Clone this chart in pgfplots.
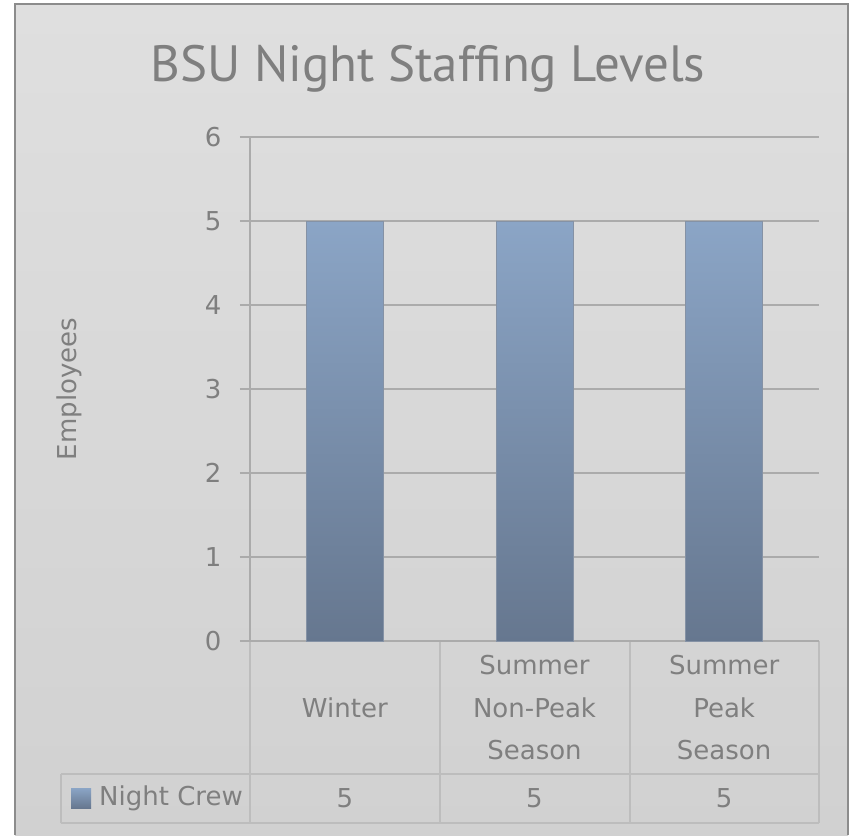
\documentclass[border=0pt]{standalone}
\usepackage{fontspec}
\usepackage{pgfplots}
\pgfplotsset{compat=1.18}
\newfontfamily\lab{DejaVu Sans}
\newfontfamily\ttl{PT Sans}
\definecolor{txt}{HTML}{7F7F7F}
\definecolor{gridc}{HTML}{ABABAB}
\definecolor{tabc}{HTML}{BDBDBD}
\definecolor{bgtop}{HTML}{DFDFDF}
\definecolor{bgbot}{HTML}{D1D1D1}
\definecolor{bartop}{HTML}{8BA5C6}
\definecolor{barbot}{HTML}{66778F}
\begin{document}
\begin{tikzpicture}
\begin{scope}[x=1pt,y=1pt]
\fill[white] (0,0) rectangle (853,835);
\shade[top color=bgtop,bottom color=bgbot] (15,0) rectangle (848,831);
\draw[line width=2pt, color=black!45] (15,0) -- (15,831) -- (848,831) -- (848,0);
\node[font=\ttl\fontsize{51}{60}\selectfont, text=txt] at (428,766) {BSU Night Staffing Levels};
% data table grid
\draw[tabc, line width=1.2pt] (61,61) -- (819,61);
\draw[tabc, line width=1.2pt] (61,12) -- (819,12);
\draw[tabc, line width=1.2pt] (61,12) -- (61,61);
\foreach \xx in {250,440,630,819} {\draw[tabc, line width=1.2pt] (\xx,12) -- (\xx,194);}
% legend key
\shade[top color=bartop, bottom color=barbot] (71,27) rectangle (91,47);
\node[font=\lab\fontsize{26}{30}\selectfont, text=txt, anchor=west, inner sep=0pt] at (99,37) {Night Crew};
\end{scope}
\begin{axis}[
  at={(250pt,194pt)}, anchor=south west, scale only axis,
  width=569pt, height=504pt,
  xmin=0, xmax=3, ymin=0, ymax=6,
  clip=false,
  axis x line=bottom, axis y line=left,
  x axis line style={draw=none},
  y axis line style={-, gridc, line width=1.5pt},
  xtick={0.5,1.5,2.5},
  xticklabels={Winter,{Summer\\Non-Peak\\Season},{Summer\\Peak\\Season}},
  xtick style={draw=none},
  xticklabel style={align=center, font=\lab\fontsize{26}{42.5}\selectfont, text=txt, anchor=center, yshift=-57pt},
  ytick={0,1,2,3,4,5,6},
  ymajorgrids,
  grid style={gridc, line width=1.5pt},
  tick align=outside, major tick length=10pt,
  ytick style={gridc, line width=1.5pt},
  yticklabel style={font=\lab\fontsize{26}{30}\selectfont, text=txt, xshift=-15pt},
  /pgf/number format/assume math mode=true,
  ylabel={Employees},
  every axis y label/.style={at={(axis description cs:-0.318,0.5)}, rotate=90, anchor=center, font=\lab\fontsize{26}{30}\selectfont, text=txt},
]
\addplot[ybar, bar width=77pt, draw=barbot!80, line width=0.5pt, top color=bartop, bottom color=barbot,
  nodes near coords,
  every node near coord/.append style={anchor=center, yshift=-577pt, font=\lab\fontsize{26}{30}\selectfont, text=txt}]
  coordinates {(0.5,5) (1.5,5) (2.5,5)};
\end{axis}
\end{tikzpicture}
\end{document}
